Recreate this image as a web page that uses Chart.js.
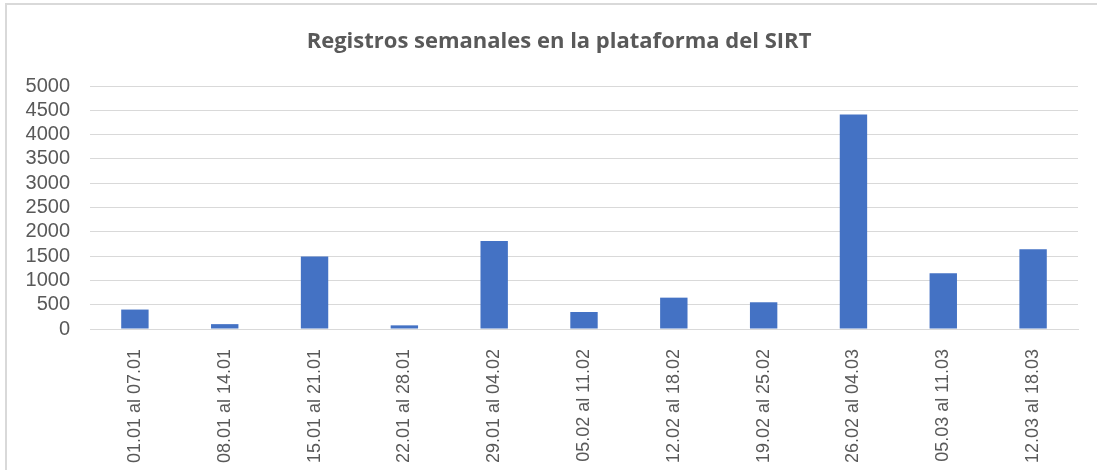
<!DOCTYPE html>
<html>
<head>
<meta charset="utf-8">
<script src="https://cdn.jsdelivr.net/npm/chart.js@4"></script>
<style>
  html, body { margin: 0; padding: 0; background: #fff; }
  #frame {
    position: absolute; left: 5px; top: 3px;
    width: 1200px; height: 600px;
    border-left: 2px solid #d9d9d9; border-top: 2px solid #d9d9d9;
  }
  #wrap { position: absolute; left: 0; top: 0; width: 1097px; height: 470px; }
</style>
</head>
<body>
<div id="frame"></div>
<div id="wrap"><canvas id="myChart"></canvas></div>
<script>
// semanas (eje x)
const weeks = [
  '01.01 al 07.01', '08.01 al 14.01', '15.01 al 21.01', '22.01 al 28.01',
  '29.01 al 04.02', '05.02 al 11.02', '12.02 al 18.02', '19.02 al 25.02',
  '26.02 al 04.03', '05.03 al 11.03', '12.03 al 18.03'
];
// registros por semana
const registros = [400, 100, 1490, 75, 1810, 350, 645, 550, 4415, 1145, 1640];

const titleText = 'Registros semanales en la plataforma del SIRT';
const yMax = 5000;
const yStep = 500;

const grey = '#595959';

// title centred on the whole frame (the built-in one only centres on the chart box)
const titlePlugin = {
  id: 'frameTitle',
  afterDraw: function (chart) {
    var ctx = chart.ctx;
    ctx.save();
    ctx.fillStyle = grey;
    ctx.font = 'bold 22px "Open Sans"';
    ctx.textAlign = 'center';
    ctx.textBaseline = 'middle';
    ctx.fillText(titleText, 559, 42);
    ctx.restore();
  }
};

var data = {
  labels: weeks,
  datasets: [{
    label: 'Registros',
    data: registros,
    backgroundColor: '#4472c4',
    borderColor: '#4472c4',
    barPercentage: 1,
    categoryPercentage: 0.305
  }]
};

var config = {
  type: 'bar',
  data,
  plugins: [titlePlugin],
  options: {
    responsive: false,
    animation: false,
    layout: { padding: { left: 0, right: 19, top: 86, bottom: 0 } },
    plugins: {
      legend: { display: false },
      tooltip: { enabled: false },
      title: { display: false }
    },
    scales: {
      x: {
        grid: { display: false },
        border: { color: '#d9d9d9', width: 1 },
        ticks: {
          color: grey,
          font: { family: 'Liberation Sans', size: 18 },
          minRotation: 90,
          maxRotation: 90,
          padding: 12,
          autoSkip: false
        },
        afterFit: function (axis) { axis.height = 141; }
      },
      y: {
        min: 0,
        max: yMax,
        grid: { color: '#d9d9d9', drawTicks: false },
        border: { display: false },
        ticks: {
          stepSize: yStep,
          autoSkip: false,
          color: grey,
          font: { family: 'Liberation Sans', size: 20 },
          padding: 20,
          callback: function (value) { return String(value); }
        },
        afterFit: function (axis) { axis.width = 90; }
      }
    }
  }
};

var canvas = document.getElementById('myChart');
canvas.width = 1097;
canvas.height = 470;
myChart = new Chart(canvas, config);
</script>
</body>
</html>
